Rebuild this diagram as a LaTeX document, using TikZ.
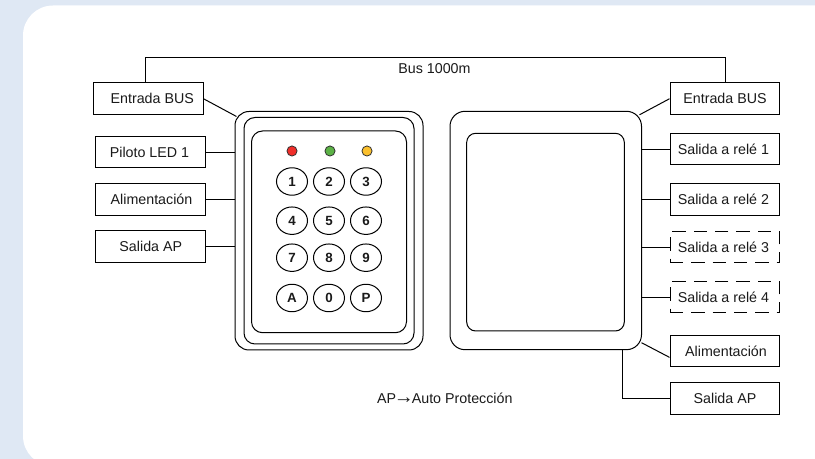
\documentclass[tikz,border=0pt]{standalone}
\usepackage{fontspec}
\setmainfont{Liberation Sans}
\definecolor{pagebg}{HTML}{DFE8F4}
\definecolor{ledred}{HTML}{F02E2A}
\definecolor{ledgreen}{HTML}{5CB246}
\definecolor{ledyellow}{HTML}{FBC02D}
\definecolor{ink}{HTML}{1A1A1A}
\usetikzlibrary{shapes.geometric}
\tikzset{
  lbl/.style={font=\fontsize{10.7}{12}\selectfont, text=ink},
  boxn/.style={draw=black, line width=.75pt, inner sep=0pt, lbl, text height=7.6pt, text depth=0pt},
  dashbox/.style={boxn, dash pattern=on 10pt off 6pt},
  wire/.style={draw=black, line width=.75pt},
  dev/.style={draw=black, line width=.75pt, inner sep=0pt},
  key/.style={draw=black, line width=.75pt, ellipse, inner sep=0pt, minimum width=23.25pt, minimum height=20.6pt, font=\fontsize{10}{12}\selectfont\bfseries, text=ink},
  led/.style={draw=black!80, line width=.6pt, circle, inner sep=0pt, minimum size=7.6pt},
}
% name, x1, y1, x2, y2, style, text offset (kern pt), text
\newcommand{\pxbox}[8]{%
  \pgfmathsetmacro{\cxx}{(#2+#4)/2}\pgfmathsetmacro{\cyy}{(#3+#5)/2}%
  \pgfmathsetmacro{\ww}{(#4-#2)*.75}\pgfmathsetmacro{\hh}{(#5-#3)*.75}%
  \node[#6, minimum width=\ww pt, minimum height=\hh pt] (#1) at (\cxx,\cyy) {\kern#7pt\relax #8};}
\newcommand{\pxdev}[6]{%
  \pgfmathsetmacro{\cxx}{(#2+#4)/2}\pgfmathsetmacro{\cyy}{(#3+#5)/2}%
  \pgfmathsetmacro{\ww}{(#4-#2)*.75}\pgfmathsetmacro{\hh}{(#5-#3)*.75}%
  \pgfmathsetmacro{\rr}{#6*.75}%
  \node[dev, rounded corners=\rr pt, minimum width=\ww pt, minimum height=\hh pt] (#1) at (\cxx,\cyy) {};}
\begin{document}
\begin{tikzpicture}[x=.75pt,y=-.75pt]
\useasboundingbox (0,0) rectangle (815,459);
\fill[pagebg] (0,0) rectangle (815,459);
\begin{scope}
\clip (0,0) rectangle (815,459);
\fill[white, rounded corners=22.5pt] (23,5.5) rectangle (900,466);
\end{scope}
% devices
\pxdev{keypad}{235}{111.5}{423}{350}{14}
\pxdev{keymid}{244}{117.5}{414}{344}{11}
\pxdev{keyin}{251.5}{131}{406.5}{332.7}{11}
\pxdev{relay}{450}{111.3}{641.5}{349.7}{15}
\pxdev{relayin}{466.7}{133.3}{624.3}{331}{9}
% leds
\node[led, fill=ledred] (l1) at (292,151) {};
\node[led, fill=ledgreen] (l2) at (330,151) {};
\node[led, fill=ledyellow] (l3) at (367,151) {};
% keys
\node[key] (k1) at (292,181.5) {1};
\node[key] (k2) at (329,181.5) {2};
\node[key] (k3) at (366,181.5) {3};
\node[key] (k4) at (292,220.7) {4};
\node[key] (k5) at (329,220.7) {5};
\node[key] (k6) at (366,220.7) {6};
\node[key] (k7) at (292,257.7) {7};
\node[key] (k8) at (329,257.7) {8};
\node[key] (k9) at (366,257.7) {9};
\node[key] (kA) at (292,298) {A};
\node[key] (k0) at (329,298) {0};
\node[key] (kP) at (366,298) {P};
% left boxes
\pxbox{lbus}{93.5}{83}{203}{114.5}{boxn}{6}{Entrada BUS}
\pxbox{lled}{95}{136.5}{205}{168}{boxn}{-.75}{Piloto LED 1}
\pxbox{lpow}{95}{184}{205}{215.5}{boxn}{2.25}{Alimentación}
\pxbox{lap}{95}{231}{205}{262.5}{boxn}{1.2}{Salida AP}
% right boxes
\pxbox{rbus}{670}{83}{779.5}{114.5}{boxn}{.4}{Entrada BUS}
\pxbox{r1}{670}{133.3}{779.5}{165}{boxn}{-1.9}{Salida a relé 1}
\pxbox{r2}{670}{184}{779.5}{215.5}{boxn}{-1.9}{Salida a relé 2}
\pxbox{r3}{670}{231.7}{779.5}{263}{dashbox}{-1.9}{Salida a relé 3}
\pxbox{r4}{670}{281.7}{779.5}{313}{dashbox}{-1.9}{Salida a relé 4}
\pxbox{rpow}{670}{335.7}{779.5}{367}{boxn}{1.9}{Alimentación}
\pxbox{rap}{670}{382.7}{779.5}{414.3}{boxn}{.4}{Salida AP}
% connectors
\coordinate (bl) at (145,83);
\coordinate (br) at (725,83);
\coordinate (btop) at (0,57.8);
\draw[wire] (lbus.north -| bl) -- (bl |- btop) -- (br |- btop) -- (rbus.north -| br);
\draw[wire] (lbus.east) -- ([shift={(2,5.5)}]keypad.north west);
\draw[wire] (lled.east) -- (lled.east -| keypad.west);
\draw[wire] (lpow.east) -- (lpow.east -| keypad.west);
\draw[wire] (lap.east) -- (lap.east -| keypad.west);
\draw[wire] (rbus.west) -- ([shift={(-2.5,4)}]relay.north east);
\draw[wire] (r1.west) -- (r1.west -| relay.east);
\draw[wire] (r2.west) -- (r2.west -| relay.east);
\draw[wire] (r3.west) -- (r3.west -| relay.east);
\draw[wire] (r4.west) -- (r4.west -| relay.east);
\draw[wire] ([shift={(0,6)}]rpow.west) -- ([shift={(-.5,-7.5)}]relay.south east);
\coordinate (apdrop) at (622,350);
\draw[wire] (rap.west) -- (rap.west -| apdrop) -- (apdrop);
% texts
\node[lbl] (bus) at (434.5,68.5) {Bus 1000m};
\node[lbl] (note) at (444.8,398) {AP\kern-1.6pt{\fontsize{15}{12}\selectfont →}\kern-1.6pt Auto Protección};
\end{tikzpicture}
\end{document}
